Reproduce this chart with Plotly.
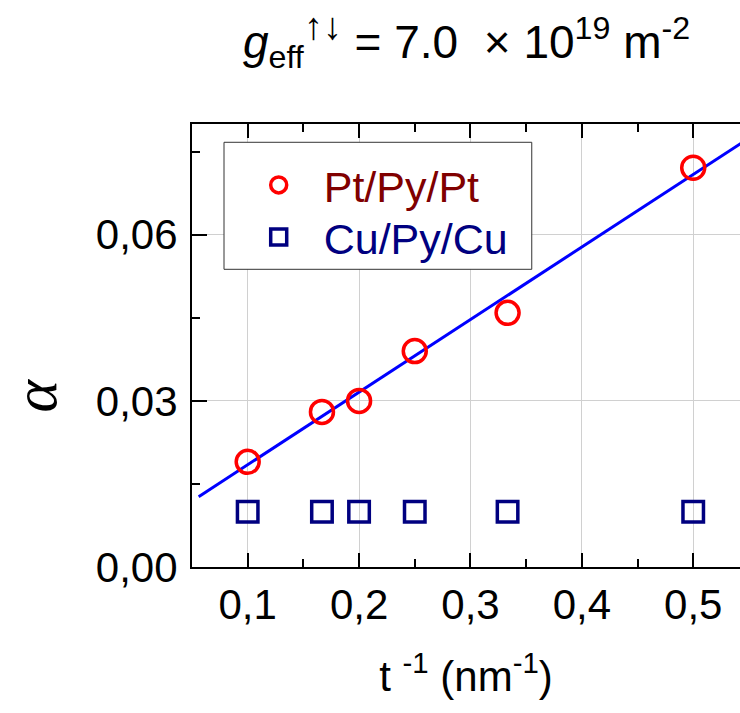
import plotly.graph_objects as go

# Data
pt_x = [0.1, 1/6, 0.2, 0.25, 1/3, 0.5]
pt_y = [0.019, 0.028, 0.030, 0.039, 0.0459, 0.0721]
cu_x = [0.1, 1/6, 0.2, 0.25, 1/3, 0.5]
cu_y = [0.010, 0.010, 0.010, 0.010, 0.010, 0.010]
fit_x = [0.056, 0.6]
fit_y = [0.0127, 0.0840]
x_ticks = [0.1, 0.2, 0.3, 0.4, 0.5]
x_labels = ["0,1", "0,2", "0,3", "0,4", "0,5"]
y_ticks = [0.0, 0.03, 0.06]
y_labels = ["0,00", "0,03", "0,06"]

FONT = "Liberation Sans, Arial, sans-serif"

fig = go.Figure()
fig.add_trace(go.Scatter(x=fit_x, y=fit_y, mode="lines",
                         line=dict(color="#0000ff", width=3), showlegend=False))
fig.add_trace(go.Scatter(x=pt_x, y=pt_y, mode="markers",
                         name="<span style='color:#800000'>Pt/Py/Pt</span>",
                         legend="legend",
                         marker=dict(symbol="circle-open", size=23, color="#ff0000",
                                     line=dict(width=3.5, color="#ff0000"))))
fig.add_trace(go.Scatter(x=cu_x, y=cu_y, mode="markers",
                         name="<span style='color:#000080'>Cu/Py/Cu</span>",
                         legend="legend2",
                         marker=dict(symbol="square-open", size=20.5, color="#000080",
                                     line=dict(width=3.5, color="#000080"))))

leg_common = dict(xanchor="left", yanchor="middle", bgcolor="rgba(0,0,0,0)",
                  borderwidth=0, font=dict(family=FONT, size=43), itemwidth=80)

fig.update_layout(
    width=740, height=713,
    margin=dict(l=192, r=0, t=124, b=146),
    paper_bgcolor="white", plot_bgcolor="white",
    font=dict(family=FONT, size=42, color="black"),
    showlegend=True,
    legend=dict(x=0.0761, y=0.8623, **leg_common),
    legend2=dict(x=0.0761, y=0.7449, **leg_common),
    xaxis=dict(range=[0.05, 0.542], tickvals=x_ticks, ticktext=x_labels,
               ticks="inside", ticklen=14, tickwidth=2, tickcolor="black",
               showline=True, linewidth=2, linecolor="black", mirror="allticks",
               showgrid=True, gridcolor="#d0d0d0", gridwidth=1, zeroline=False,
               ticklabelstandoff=0,
               minor=dict(dtick=0.05, tick0=0.05, ticks="inside", ticklen=8,
                          tickwidth=2, tickcolor="black", showgrid=False),
               title=dict(text="t <sup>-1</sup> (nm<sup>-1</sup>)",
                          font=dict(size=42), standoff=34)),
    yaxis=dict(range=[0, 0.08], tickvals=y_ticks, ticktext=y_labels,
               ticks="inside", ticklen=15, tickwidth=2, tickcolor="black",
               showline=True, linewidth=2, linecolor="black", mirror=False,
               showgrid=True, gridcolor="#d0d0d0", gridwidth=1, zeroline=False,
               ticklabelstandoff=4,
               minor=dict(dtick=0.015, tick0=0, ticks="inside", ticklen=8,
                          tickwidth=2, tickcolor="black", showgrid=False)),
    shapes=[
        dict(type="rect", xref="paper", yref="paper", x0=0.0584, x1=0.620,
             y0=0.672, y1=0.9587, fillcolor="white",
             line=dict(color="#333333", width=1), layer="above"),
    ],
    annotations=[
        dict(text="<i>g</i><sub>eff</sub><sup><span style='font-size:38px'>↑↓</span></sup>"
                  " = 7.0  × 10<sup>19</sup> m<sup>-2</sup>",
             xref="paper", yref="paper", x=0.5, y=1.19, xanchor="center",
             yanchor="middle", showarrow=False, font=dict(family=FONT, size=46)),
        dict(text="<i>α</i>", xref="paper", yref="paper", x=-0.286, y=0.388,
             xanchor="center", yanchor="middle", textangle=-90, showarrow=False,
             font=dict(family="Liberation Serif, Times New Roman, serif", size=62)),
    ],
)

fig.write_html("out.html")
